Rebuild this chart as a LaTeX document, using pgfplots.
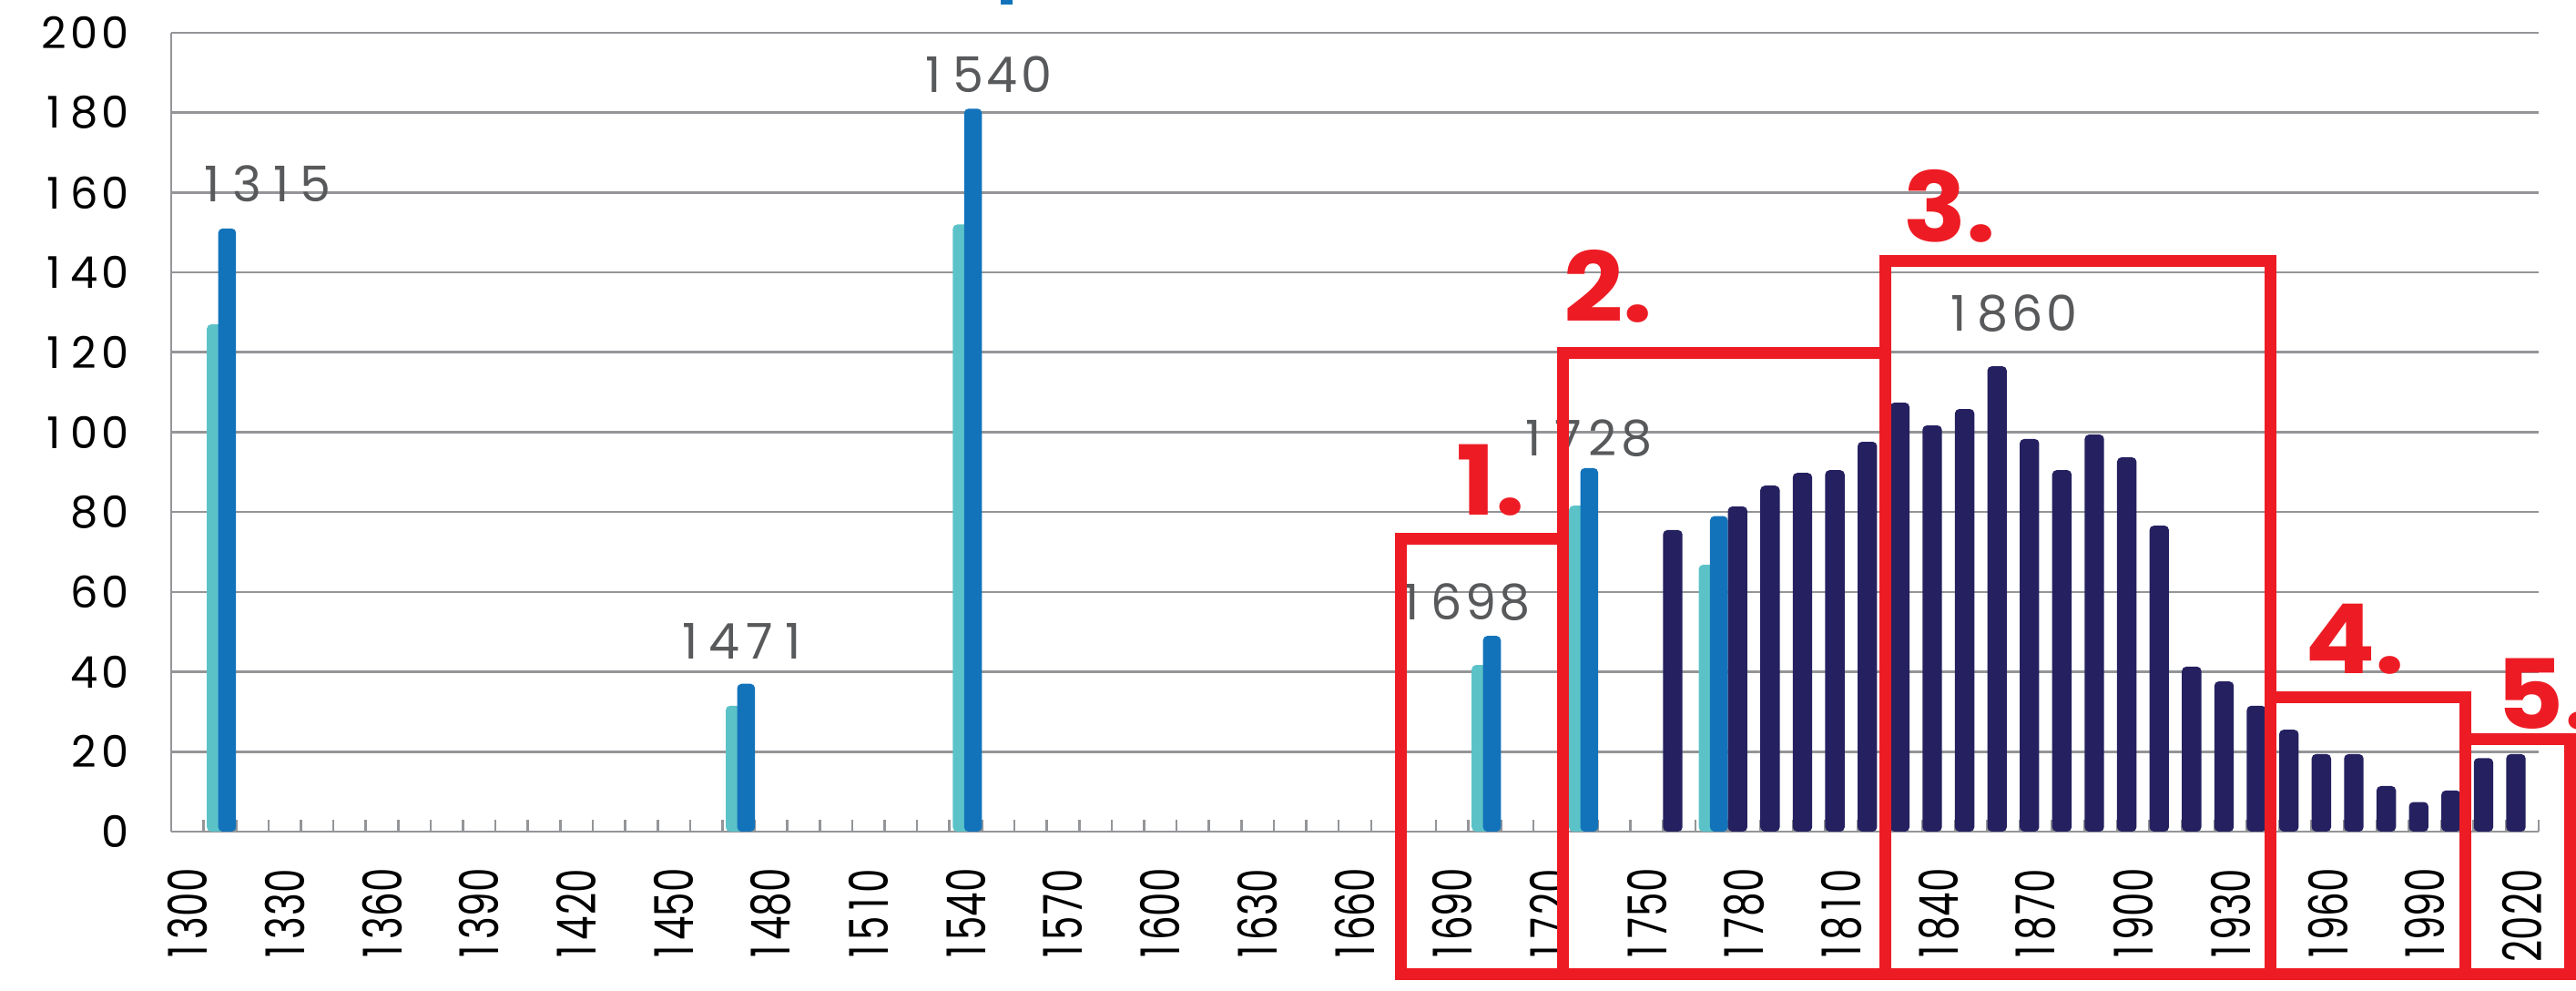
\documentclass[border=0pt]{standalone}
\usepackage{fontspec}
\setmainfont{Poppins}
\usepackage{pgfplots}
\usepackage{pgfplotstable}
\pgfplotsset{compat=1.18}

\definecolor{tealbar}{HTML}{5BC3C8}
\definecolor{bluebar}{HTML}{1273BB}
\definecolor{navybar}{HTML}{252160}
\definecolor{boxred}{HTML}{ED1C24}
\definecolor{lblgray}{HTML}{58595B}
\definecolor{gridgray}{HTML}{939598}

% digits set in boxes of equal width (tabular look of the original)
\makeatletter
\def\tnum#1#2{\def\tn@w{#1}\tn@a#2\relax}
\def\tn@a#1{\ifx#1\relax\else\makebox[\tn@w][c]{#1}\expandafter\tn@a\fi}
\makeatother
\newcommand\yt[1]{\tnum{0.7em}{#1}}
\newcommand\xt[1]{\tnum{0.62em}{#1}}

% year  value
\pgfplotstableread{
year val
1310 127
1470 31.5
1540 152
1700 41.7
1730 81.6
1770 66.8
}\tealdata

\pgfplotstableread{
year val
1310 151
1470 37
1540 181
1700 49
1730 91
1770 79
}\bluedata

\pgfplotstableread{
year val
1760 75.5
1780 81.4
1790 86.6
1800 89.8
1810 90.5
1820 97.6
1830 107.4
1840 101.7
1850 105.8
1860 116.5
1870 98.3
1880 90.5
1890 99.4
1900 93.7
1910 76.6
1920 41.3
1930 37.6
1940 31.5
1950 25.5
1960 19.4
1970 19.4
1980 11.4
1990 7.4
2000 10.3
2010 18.4
2020 19.4
}\navydata

\begin{document}
\begin{tikzpicture}
\useasboundingbox (0,0) rectangle (707.25pt,272pt);
\begin{axis}[
    at={(47pt,43.75pt)}, anchor=south west,
    scale only axis, width=650pt, height=219.25pt,
    xmin=1295, xmax=2025, ymin=0, ymax=200,
    enlargelimits=false,
    axis lines*=left,
    axis line style={draw=gridgray, line width=0.65pt},
    ytick={0,20,...,200},
    yticklabels={\yt{0},\yt{20},\yt{40},\yt{60},\yt{80},\yt{100},\yt{120},\yt{140},\yt{160},\yt{180},\yt{200}},
    xtick={1300,1330,...,2020},
    xticklabels={\xt{1300},\xt{1330},\xt{1360},\xt{1390},\xt{1420},\xt{1450},\xt{1480},\xt{1510},\xt{1540},\xt{1570},\xt{1600},\xt{1630},\xt{1660},\xt{1690},\xt{1720},\xt{1750},\xt{1780},\xt{1810},\xt{1840},\xt{1870},\xt{1900},\xt{1930},\xt{1960},\xt{1990},\xt{2020}},
    minor xtick={1295,1305,...,2025},
    tick align=inside,
    major tick length=0pt,
    minor tick length=3.25pt,
    minor tick style={draw=gridgray, line width=0.65pt},
    ymajorgrids,
    major grid style={draw=gridgray, line width=0.65pt},
    yticklabel style={xshift=-11pt, anchor=east, inner sep=0pt,
        font=\fontsize{12}{14}\selectfont},
    xticklabel style={yshift=-10pt, xscale=1.4, rotate=90, anchor=east, inner sep=0pt,
        font=\fontsize{10.5}{12}\selectfont},
]
\addplot[ybar, fill=tealbar, draw=none, bar width=5.5, bar shift=-1.25, rounded corners=1.2pt]
    table[x=year, y=val] {\tealdata};
\addplot[ybar, fill=bluebar, draw=none, bar width=5.5, bar shift=2.25, rounded corners=1.2pt]
    table[x=year, y=val] {\bluedata};
\addplot[ybar, fill=navybar, draw=none, bar width=6, bar shift=-2, rounded corners=1.2pt]
    table[x=year, y=val] {\navydata};

\begin{scope}[every node/.style={text=lblgray, inner sep=0pt,
    font=\fontsize{13.5}{15}\selectfont}]
\node at (axis cs:1323.6,162.1) {\yt{1315}};
\node at (axis cs:1471,47.7) {\yt{1471}};
\node at (axis cs:1546,189.5) {\yt{1540}};
\node at (axis cs:1693.5,57.5) {\yt{1698}};
\node at (axis cs:1731,98.5) {\yt{1728}};
\node at (axis cs:1862,129.8) {\yt{1860}};
\end{scope}
\end{axis}

% red boxes, in pixel units of the reference
\begin{scope}[yshift=272pt, x=0.25pt, y=-0.25pt]
\fill[bluebar] (1099,0) rectangle (1112,5);
\begin{scope}[draw=boxred, line width=3.25pt, line join=miter]
\draw (1538,592) rectangle (1716,1070);
\draw (1716,388) rectangle (2070,1070);
\draw (2070,287) rectangle (2493,1070);
\draw (2493,766) rectangle (2707,1070);
\draw (2707,812) rectangle (2822,1070);
\end{scope}
\begin{scope}[every node/.style={text=boxred, inner sep=0pt, xscale=1.08,
    font=\fontsize{26.5}{26.5}\selectfont\bfseries}]
\node at (1637,527) {1.};
\node at (1766,314) {2.};
\node at (2141,226) {3.};
\node at (2586,702) {4.};
\node[anchor=west] at (2741,762) {5.};
\end{scope}
\end{scope}
\end{tikzpicture}
\end{document}
